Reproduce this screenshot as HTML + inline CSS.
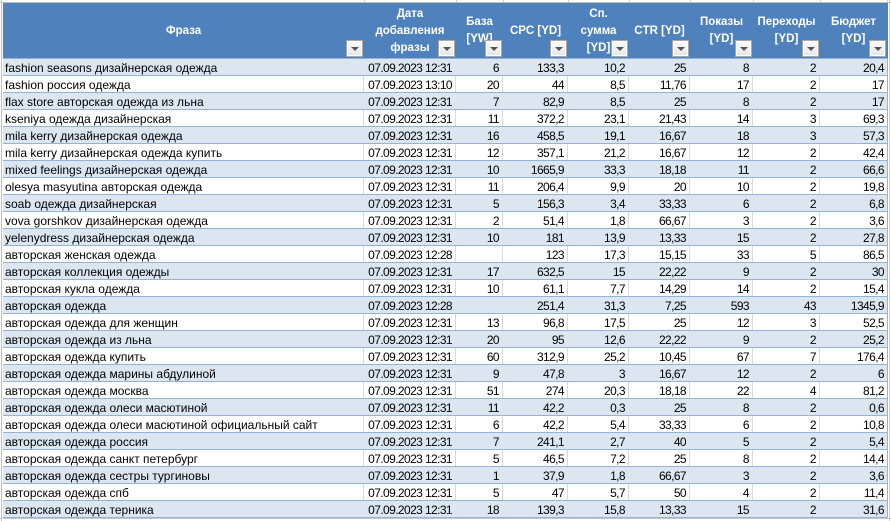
<!DOCTYPE html>
<html><head><meta charset="utf-8">
<style>
*{box-sizing:border-box;margin:0;padding:0}
html,body{width:891px;height:521px;overflow:hidden;background:#fff}
body{position:relative;font-family:"Liberation Sans","Noto Sans CJK SC",sans-serif;color:#000}
.topline{position:absolute;left:0;top:2px;width:891px;height:1px;background:#c0c0c0}
.leftline{position:absolute;left:1px;top:0;width:1px;height:521px;background:#c0c0c0}
.rightline{position:absolute;left:889px;top:0;width:1px;height:521px;background:#d0d0d0}
.vt{position:absolute;top:0;height:2px;width:1px;background:#d0d0d0}
.hdr{position:absolute;left:3px;top:3px;width:885px;height:55px;background:#4f81bd}
.hc{position:absolute;top:0;height:55px;display:flex;align-items:center;justify-content:center;text-align:center;color:#fff;font-weight:bold;font-size:11.5px;line-height:17px;padding-top:1px}
.btn{position:absolute;top:37px;width:17px;height:17px;border:1px solid #a8a8a8;background:linear-gradient(#fafafa,#e6e6e6);box-shadow:inset 0 0 0 1px #fff}
.btn:after{content:"";position:absolute;left:4px;top:6px;border-left:4px solid transparent;border-right:4px solid transparent;border-top:4px solid #555}
.row{position:absolute;left:3px;width:885px;height:17px;border-top:1px solid #95b3d7;display:flex}
.row.b{background:#dce6f1}
.row.w{background:#fff}
.c{height:16px;line-height:16px;padding-top:1px;font-size:12px;white-space:nowrap;overflow:hidden;border-right:1px solid #d9d9d9}
.row.b .c{border-right-color:#dce6f1}
.row .c:last-child{border-right-color:#95b3d7}
.c0{width:361px;padding-left:2px}
.n{text-align:right;padding-right:3px;letter-spacing:-0.6px}
.c1{width:92px}.c2{width:47px}.c3{width:65px}.c4{width:61px}.c5{width:61px}.c6{width:63px}.c7{width:67px}.c8{width:68px}
.bot{position:absolute;left:0;top:518px;width:891px;height:1px;background:#c6c6c6}
</style></head><body>
<div class="topline"></div>
<div class="leftline"></div>
<div class="rightline"></div>
<div class="vt" style="left:364px"></div><div class="vt" style="left:456px"></div><div class="vt" style="left:503px"></div><div class="vt" style="left:568px"></div><div class="vt" style="left:629px"></div><div class="vt" style="left:690px"></div><div class="vt" style="left:753px"></div><div class="vt" style="left:820px"></div><div class="vt" style="left:887px"></div>

<div class="hdr">
  <div class="hc" style="left:0;width:361px">Фраза</div>
  <div class="hc" style="left:361px;width:92px">Дата<br>добавления<br>фразы</div>
  <div class="hc" style="left:453px;width:47px">База<br>[YW]</div>
  <div class="hc" style="left:500px;width:65px">CPC [YD]</div>
  <div class="hc" style="left:565px;width:61px">Сп.<br>сумма<br>[YD]</div>
  <div class="hc" style="left:626px;width:61px">CTR [YD]</div>
  <div class="hc" style="left:687px;width:63px">Показы<br>[YD]</div>
  <div class="hc" style="left:750px;width:67px">Переходы<br>[YD]</div>
  <div class="hc" style="left:817px;width:67px">Бюджет<br>[YD]</div>
  <div class="btn" style="left:343px"></div>
  <div class="btn" style="left:435px"></div>
  <div class="btn" style="left:482px"></div>
  <div class="btn" style="left:547px"></div>
  <div class="btn" style="left:608px"></div>
  <div class="btn" style="left:669px"></div>
  <div class="btn" style="left:732px"></div>
  <div class="btn" style="left:799px"></div>
  <div class="btn" style="left:866px"></div>
</div>

<div class="row b" style="top:58px"><div class="c c0">fashion seasons дизайнерская одежда</div><div class="c c1 n">07.09.2023 12:31</div><div class="c c2 n">6</div><div class="c c3 n">133,3</div><div class="c c4 n">10,2</div><div class="c c5 n">25</div><div class="c c6 n">8</div><div class="c c7 n">2</div><div class="c c8 n">20,4</div></div>
<div class="row w" style="top:75px"><div class="c c0">fashion россия одежда</div><div class="c c1 n">07.09.2023 13:10</div><div class="c c2 n">20</div><div class="c c3 n">44</div><div class="c c4 n">8,5</div><div class="c c5 n">11,76</div><div class="c c6 n">17</div><div class="c c7 n">2</div><div class="c c8 n">17</div></div>
<div class="row b" style="top:92px"><div class="c c0">flax store авторская одежда из льна</div><div class="c c1 n">07.09.2023 12:31</div><div class="c c2 n">7</div><div class="c c3 n">82,9</div><div class="c c4 n">8,5</div><div class="c c5 n">25</div><div class="c c6 n">8</div><div class="c c7 n">2</div><div class="c c8 n">17</div></div>
<div class="row w" style="top:109px"><div class="c c0">kseniya одежда дизайнерская</div><div class="c c1 n">07.09.2023 12:31</div><div class="c c2 n">11</div><div class="c c3 n">372,2</div><div class="c c4 n">23,1</div><div class="c c5 n">21,43</div><div class="c c6 n">14</div><div class="c c7 n">3</div><div class="c c8 n">69,3</div></div>
<div class="row b" style="top:126px"><div class="c c0">mila kerry дизайнерская одежда</div><div class="c c1 n">07.09.2023 12:31</div><div class="c c2 n">16</div><div class="c c3 n">458,5</div><div class="c c4 n">19,1</div><div class="c c5 n">16,67</div><div class="c c6 n">18</div><div class="c c7 n">3</div><div class="c c8 n">57,3</div></div>
<div class="row w" style="top:143px"><div class="c c0">mila kerry дизайнерская одежда купить</div><div class="c c1 n">07.09.2023 12:31</div><div class="c c2 n">12</div><div class="c c3 n">357,1</div><div class="c c4 n">21,2</div><div class="c c5 n">16,67</div><div class="c c6 n">12</div><div class="c c7 n">2</div><div class="c c8 n">42,4</div></div>
<div class="row b" style="top:160px"><div class="c c0">mixed feelings дизайнерская одежда</div><div class="c c1 n">07.09.2023 12:31</div><div class="c c2 n">10</div><div class="c c3 n">1665,9</div><div class="c c4 n">33,3</div><div class="c c5 n">18,18</div><div class="c c6 n">11</div><div class="c c7 n">2</div><div class="c c8 n">66,6</div></div>
<div class="row w" style="top:177px"><div class="c c0">olesya masyutina авторская одежда</div><div class="c c1 n">07.09.2023 12:31</div><div class="c c2 n">11</div><div class="c c3 n">206,4</div><div class="c c4 n">9,9</div><div class="c c5 n">20</div><div class="c c6 n">10</div><div class="c c7 n">2</div><div class="c c8 n">19,8</div></div>
<div class="row b" style="top:194px"><div class="c c0">soab одежда дизайнерская</div><div class="c c1 n">07.09.2023 12:31</div><div class="c c2 n">5</div><div class="c c3 n">156,3</div><div class="c c4 n">3,4</div><div class="c c5 n">33,33</div><div class="c c6 n">6</div><div class="c c7 n">2</div><div class="c c8 n">6,8</div></div>
<div class="row w" style="top:211px"><div class="c c0">vova gorshkov дизайнерская одежда</div><div class="c c1 n">07.09.2023 12:31</div><div class="c c2 n">2</div><div class="c c3 n">51,4</div><div class="c c4 n">1,8</div><div class="c c5 n">66,67</div><div class="c c6 n">3</div><div class="c c7 n">2</div><div class="c c8 n">3,6</div></div>
<div class="row b" style="top:228px"><div class="c c0">yelenydress дизайнерская одежда</div><div class="c c1 n">07.09.2023 12:31</div><div class="c c2 n">10</div><div class="c c3 n">181</div><div class="c c4 n">13,9</div><div class="c c5 n">13,33</div><div class="c c6 n">15</div><div class="c c7 n">2</div><div class="c c8 n">27,8</div></div>
<div class="row w" style="top:245px"><div class="c c0">авторская женская одежда</div><div class="c c1 n">07.09.2023 12:28</div><div class="c c2 n"></div><div class="c c3 n">123</div><div class="c c4 n">17,3</div><div class="c c5 n">15,15</div><div class="c c6 n">33</div><div class="c c7 n">5</div><div class="c c8 n">86,5</div></div>
<div class="row b" style="top:262px"><div class="c c0">авторская коллекция одежды</div><div class="c c1 n">07.09.2023 12:31</div><div class="c c2 n">17</div><div class="c c3 n">632,5</div><div class="c c4 n">15</div><div class="c c5 n">22,22</div><div class="c c6 n">9</div><div class="c c7 n">2</div><div class="c c8 n">30</div></div>
<div class="row w" style="top:279px"><div class="c c0">авторская кукла одежда</div><div class="c c1 n">07.09.2023 12:31</div><div class="c c2 n">10</div><div class="c c3 n">61,1</div><div class="c c4 n">7,7</div><div class="c c5 n">14,29</div><div class="c c6 n">14</div><div class="c c7 n">2</div><div class="c c8 n">15,4</div></div>
<div class="row b" style="top:296px"><div class="c c0">авторская одежда</div><div class="c c1 n">07.09.2023 12:28</div><div class="c c2 n"></div><div class="c c3 n">251,4</div><div class="c c4 n">31,3</div><div class="c c5 n">7,25</div><div class="c c6 n">593</div><div class="c c7 n">43</div><div class="c c8 n">1345,9</div></div>
<div class="row w" style="top:313px"><div class="c c0">авторская одежда для женщин</div><div class="c c1 n">07.09.2023 12:31</div><div class="c c2 n">13</div><div class="c c3 n">96,8</div><div class="c c4 n">17,5</div><div class="c c5 n">25</div><div class="c c6 n">12</div><div class="c c7 n">3</div><div class="c c8 n">52,5</div></div>
<div class="row b" style="top:330px"><div class="c c0">авторская одежда из льна</div><div class="c c1 n">07.09.2023 12:31</div><div class="c c2 n">20</div><div class="c c3 n">95</div><div class="c c4 n">12,6</div><div class="c c5 n">22,22</div><div class="c c6 n">9</div><div class="c c7 n">2</div><div class="c c8 n">25,2</div></div>
<div class="row w" style="top:347px"><div class="c c0">авторская одежда купить</div><div class="c c1 n">07.09.2023 12:31</div><div class="c c2 n">60</div><div class="c c3 n">312,9</div><div class="c c4 n">25,2</div><div class="c c5 n">10,45</div><div class="c c6 n">67</div><div class="c c7 n">7</div><div class="c c8 n">176,4</div></div>
<div class="row b" style="top:364px"><div class="c c0">авторская одежда марины абдулиной</div><div class="c c1 n">07.09.2023 12:31</div><div class="c c2 n">9</div><div class="c c3 n">47,8</div><div class="c c4 n">3</div><div class="c c5 n">16,67</div><div class="c c6 n">12</div><div class="c c7 n">2</div><div class="c c8 n">6</div></div>
<div class="row w" style="top:381px"><div class="c c0">авторская одежда москва</div><div class="c c1 n">07.09.2023 12:31</div><div class="c c2 n">51</div><div class="c c3 n">274</div><div class="c c4 n">20,3</div><div class="c c5 n">18,18</div><div class="c c6 n">22</div><div class="c c7 n">4</div><div class="c c8 n">81,2</div></div>
<div class="row b" style="top:398px"><div class="c c0">авторская одежда олеси масютиной</div><div class="c c1 n">07.09.2023 12:31</div><div class="c c2 n">11</div><div class="c c3 n">42,2</div><div class="c c4 n">0,3</div><div class="c c5 n">25</div><div class="c c6 n">8</div><div class="c c7 n">2</div><div class="c c8 n">0,6</div></div>
<div class="row w" style="top:415px"><div class="c c0">авторская одежда олеси масютиной официальный сайт</div><div class="c c1 n">07.09.2023 12:31</div><div class="c c2 n">6</div><div class="c c3 n">42,2</div><div class="c c4 n">5,4</div><div class="c c5 n">33,33</div><div class="c c6 n">6</div><div class="c c7 n">2</div><div class="c c8 n">10,8</div></div>
<div class="row b" style="top:432px"><div class="c c0">авторская одежда россия</div><div class="c c1 n">07.09.2023 12:31</div><div class="c c2 n">7</div><div class="c c3 n">241,1</div><div class="c c4 n">2,7</div><div class="c c5 n">40</div><div class="c c6 n">5</div><div class="c c7 n">2</div><div class="c c8 n">5,4</div></div>
<div class="row w" style="top:449px"><div class="c c0">авторская одежда санкт петербург</div><div class="c c1 n">07.09.2023 12:31</div><div class="c c2 n">5</div><div class="c c3 n">46,5</div><div class="c c4 n">7,2</div><div class="c c5 n">25</div><div class="c c6 n">8</div><div class="c c7 n">2</div><div class="c c8 n">14,4</div></div>
<div class="row b" style="top:466px"><div class="c c0">авторская одежда сестры тургиновы</div><div class="c c1 n">07.09.2023 12:31</div><div class="c c2 n">1</div><div class="c c3 n">37,9</div><div class="c c4 n">1,8</div><div class="c c5 n">66,67</div><div class="c c6 n">3</div><div class="c c7 n">2</div><div class="c c8 n">3,6</div></div>
<div class="row w" style="top:483px"><div class="c c0">авторская одежда спб</div><div class="c c1 n">07.09.2023 12:31</div><div class="c c2 n">5</div><div class="c c3 n">47</div><div class="c c4 n">5,7</div><div class="c c5 n">50</div><div class="c c6 n">4</div><div class="c c7 n">2</div><div class="c c8 n">11,4</div></div>
<div class="row b" style="top:500px;border-bottom:1px solid #95b3d7;height:18px"><div class="c c0">авторская одежда терника</div><div class="c c1 n">07.09.2023 12:31</div><div class="c c2 n">18</div><div class="c c3 n">139,3</div><div class="c c4 n">15,8</div><div class="c c5 n">13,33</div><div class="c c6 n">15</div><div class="c c7 n">2</div><div class="c c8 n">31,6</div></div>
<div class="bot"></div>
</body></html>
